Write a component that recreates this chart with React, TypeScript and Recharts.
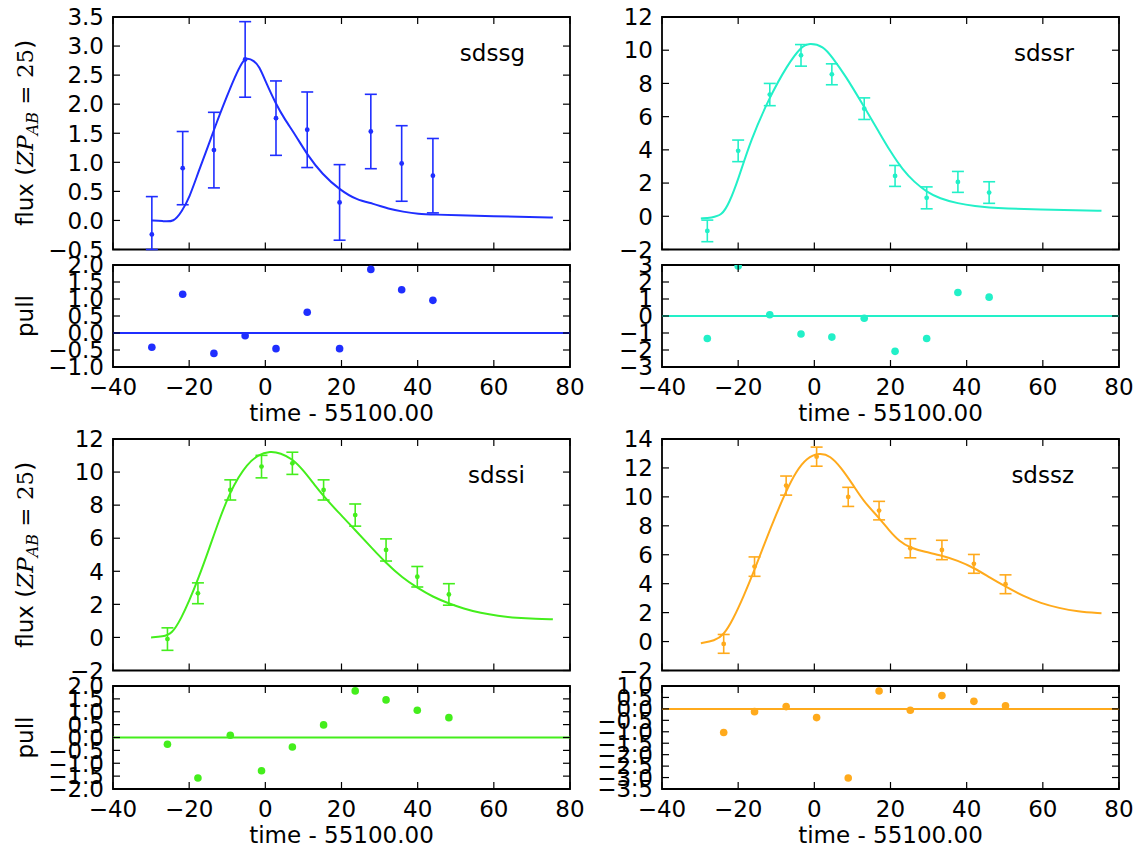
import React from "react";
import { ComposedChart, Line, Scatter, ErrorBar, XAxis, YAxis, ReferenceLine, ReferenceArea } from "recharts";

// epochs are days relative to MJD 55100
const gTime = [-29.8, -21.7, -13.5, -5.3, 2.8, 11.0, 19.5, 27.7, 35.8, 44.0];
const gFlux = [-0.24, 0.9, 1.21, 2.77, 1.76, 1.56, 0.31, 1.53, 0.98, 0.77];
const gErr = [0.65, 0.63, 0.65, 0.65, 0.64, 0.65, 0.65, 0.64, 0.65, 0.64];
const gPull = [-0.42, 1.14, -0.6, -0.08, -0.46, 0.61, -0.46, 1.87, 1.27, 0.96];
const gModelTime = [-30, -27, -24, -22, -20, -17.5, -15, -13, -10, -8, -6, -4.8, -3, -1.6, 0, 2.8, 5, 8, 11, 15, 19.5, 24, 28.4, 32.3, 36.2, 40, 45, 50, 60, 70, 75.5];
const gModelFlux = [0.0, -0.01, -0.03, 0.15, 0.38, 0.85, 1.28, 1.65, 2.15, 2.47, 2.74, 2.8, 2.75, 2.65, 2.4, 2.0, 1.75, 1.46, 1.13, 0.79, 0.53, 0.35, 0.29, 0.2, 0.15, 0.11, 0.1, 0.09, 0.07, 0.06, 0.05];

const rTime = [-28.1, -20.0, -11.7, -3.5, 4.6, 13.1, 21.2, 29.5, 37.7, 45.9];
const rFlux = [-0.88, 3.94, 7.33, 9.69, 8.55, 6.48, 2.43, 1.11, 2.07, 1.43];
const rErr = [0.65, 0.65, 0.67, 0.65, 0.63, 0.65, 0.63, 0.66, 0.63, 0.65];
const rPull = [-1.32, 2.94, 0.07, -1.06, -1.24, -0.13, -2.08, -1.32, 1.38, 1.11];
const rModelTime = [-29.8, -27, -24.3, -22.4, -20, -16.7, -11.7, -7.1, -3.5, -1.4, 2.4, 4.6, 8.1, 13.1, 16.7, 20, 23.3, 26.2, 29.5, 32.9, 37.7, 42.4, 45.9, 50, 59.5, 69, 75.4];
const rModelFlux = [-0.13, -0.08, 0.05, 0.77, 2.2, 4.6, 7.2, 9.1, 10.2, 10.45, 10.25, 9.6, 8.5, 6.58, 5.18, 3.88, 2.77, 2.07, 1.47, 1.07, 0.77, 0.61, 0.53, 0.47, 0.41, 0.37, 0.33];

const iTime = [-25.7, -17.7, -9.2, -1.0, 7.1, 15.3, 23.6, 31.7, 39.9, 48.2];
const iFlux = [-0.1, 2.67, 8.92, 10.33, 10.53, 8.92, 7.4, 5.29, 3.67, 2.6];
const iErr = [0.68, 0.63, 0.61, 0.68, 0.67, 0.61, 0.67, 0.67, 0.62, 0.65];
const iPull = [-0.26, -1.57, 0.09, -1.29, -0.37, 0.49, 1.81, 1.46, 1.06, 0.77];
const iModelTime = [-30, -27, -24.5, -22, -20, -17.7, -15, -12, -9.2, -7, -5, -2, 1.3, 4, 7.1, 10, 13, 15.3, 19, 23.6, 28, 31.7, 36, 39.9, 44, 48.2, 52, 56.6, 61, 66, 71, 75.5];
const iModelFlux = [0, 0.05, 0.2, 1.2, 2.2, 3.5, 5.2, 7.2, 8.8, 9.7, 10.4, 11.05, 11.27, 11.15, 10.8, 10.1, 9.2, 8.55, 7.6, 6.5, 5.4, 4.5, 3.6, 3.0, 2.45, 2.05, 1.75, 1.47, 1.3, 1.18, 1.12, 1.1];

const zTime = [-23.8, -15.7, -7.4, 0.6, 8.9, 17.0, 25.2, 33.5, 41.9, 50.2];
const zFlux = [-0.16, 5.18, 10.78, 12.78, 10.0, 9.05, 6.45, 6.33, 5.37, 3.96];
const zErr = [0.65, 0.67, 0.66, 0.66, 0.66, 0.64, 0.66, 0.67, 0.65, 0.65];
const zPull = [-1.03, -0.12, 0.1, -0.38, -3.02, 0.78, -0.06, 0.58, 0.33, 0.14];
const zModelTime = [-29.8, -26.2, -23.8, -21.4, -18.6, -15.7, -12.9, -10, -7.4, -4.8, -2, 1.3, 4.2, 7.1, 10, 12.9, 17, 19.5, 22.4, 25.2, 29, 33.5, 37.6, 41.9, 46.2, 50.2, 54.8, 59.5, 64.3, 69, 75.4];
const zModelFlux = [-0.11, 0.05, 0.45, 1.5, 3.1, 4.95, 6.9, 8.8, 10.4, 11.75, 12.7, 13.05, 12.85, 12.0, 10.9, 9.7, 8.55, 7.72, 6.9, 6.48, 6.2, 5.95, 5.6, 5.1, 4.4, 3.8, 3.15, 2.65, 2.31, 2.08, 1.95];

const timeTicks = [-40, -20, 0, 20, 40, 60, 80];
const gFluxTicks = [-0.5, 0, 0.5, 1, 1.5, 2, 2.5, 3, 3.5];
const rFluxTicks = [-2, 0, 2, 4, 6, 8, 10, 12];
const iFluxTicks = [-2, 0, 2, 4, 6, 8, 10, 12];
const zFluxTicks = [-2, 0, 2, 4, 6, 8, 10, 12, 14];
const gPullTicks = [-1, -0.5, 0, 0.5, 1, 1.5, 2];
const rPullTicks = [-3, -2, -1, 0, 1, 2, 3];
const iPullTicks = [-2, -1.5, -1, -0.5, 0, 0.5, 1, 1.5, 2];
const zPullTicks = [-3.5, -3, -2.5, -2, -1.5, -1, -0.5, 0, 0.5, 1];

const FONT = "'DejaVu Sans', sans-serif";
const SERIF = "'DejaVu Serif', serif";
const FS = 23;
const TICK = 7;
const PLOT_W = 457;
const COL_X = [113, 662];
const ROWS = [
  { mainTop: 16.5, mainH: 232.5, pullTop: 265, pullH: 102 },
  { mainTop: 439, mainH: 231.5, pullTop: 686, pullH: 103 },
];

const zip = (xs: number[], ys: number[]) => xs.map((x, k) => ({ x, y: ys[k] }));

// error bars are cut at the axes limits, like the clipped reference
const withErr = (xs: number[], ys: number[], es: number[], ticks: number[]) => {
  const lo = ticks[0];
  const hi = ticks[ticks.length - 1];
  return xs.map((x, k) => ({
    x,
    y: ys[k],
    err: [Math.min(es[k], ys[k] - lo), Math.min(es[k], hi - ys[k])],
  }));
};

const bands = [
  { name: "sdssg", color: "#1f2eff", col: 0, row: 0, obs: withErr(gTime, gFlux, gErr, gFluxTicks), pull: zip(gTime, gPull), model: zip(gModelTime, gModelFlux), fluxTicks: gFluxTicks, fluxDigits: 1, pullTicks: gPullTicks, pullDigits: 1 },
  { name: "sdssr", color: "#22f0c8", col: 1, row: 0, obs: withErr(rTime, rFlux, rErr, rFluxTicks), pull: zip(rTime, rPull), model: zip(rModelTime, rModelFlux), fluxTicks: rFluxTicks, fluxDigits: 0, pullTicks: rPullTicks, pullDigits: 0 },
  { name: "sdssi", color: "#44ee1c", col: 0, row: 1, obs: withErr(iTime, iFlux, iErr, iFluxTicks), pull: zip(iTime, iPull), model: zip(iModelTime, iModelFlux), fluxTicks: iFluxTicks, fluxDigits: 0, pullTicks: iPullTicks, pullDigits: 1 },
  { name: "sdssz", color: "#ffaa1c", col: 1, row: 1, obs: withErr(zTime, zFlux, zErr, zFluxTicks), pull: zip(zTime, zPull), model: zip(zModelTime, zModelFlux), fluxTicks: zFluxTicks, fluxDigits: 0, pullTicks: zPullTicks, pullDigits: 1 },
];

const fmt = (v: number, d: number) => v.toFixed(d).replace("-", "\u2212");

function XTick(props: any) {
  const { x, y, payload, plotH, showLabel } = props;
  return (
    <g>
      <line x1={x} x2={x} y1={y} y2={y - TICK} stroke="#000" strokeWidth={1.2} />
      <line x1={x} x2={x} y1={y - plotH} y2={y - plotH + TICK} stroke="#000" strokeWidth={1.2} />
      {showLabel && (
        <text x={x} y={y + 28} textAnchor="middle" fontSize={FS} fontFamily={FONT} fill="#000">
          {fmt(payload.value, 0)}
        </text>
      )}
    </g>
  );
}

function YTick(props: any) {
  const { x, y, payload, digits } = props;
  return (
    <g>
      <line x1={x} x2={x + TICK} y1={y} y2={y} stroke="#000" strokeWidth={1.2} />
      <line x1={x + PLOT_W} x2={x + PLOT_W - TICK} y1={y} y2={y} stroke="#000" strokeWidth={1.2} />
      <text x={x - 9} y={y} dy="0.36em" textAnchor="end" fontSize={FS} fontFamily={FONT} fill="#000">
        {fmt(payload.value, digits)}
      </text>
    </g>
  );
}

function Panel({ band }: { band: any }) {
  const r = ROWS[band.row];
  const left = COL_X[band.col] - 100;
  const fMin = band.fluxTicks[0];
  const fMax = band.fluxTicks[band.fluxTicks.length - 1];
  const pMin = band.pullTicks[0];
  const pMax = band.pullTicks[band.pullTicks.length - 1];
  const margin = { top: 20, right: 20, bottom: 0, left: 40 };
  return (
    <>
      <div style={{ position: "absolute", left, top: r.mainTop - 20 }}>
        <ComposedChart width={100 + PLOT_W + 20} height={r.mainH + 40} margin={margin}>
          <XAxis type="number" dataKey="x" domain={[-40, 80]} ticks={timeTicks} interval={0} allowDataOverflow
            axisLine={false} tickLine={false} tickSize={0} tickMargin={0} height={20}
            tick={(p: any) => <XTick {...p} plotH={r.mainH} showLabel={false} />} />
          <YAxis type="number" dataKey="y" domain={[fMin, fMax]} ticks={band.fluxTicks} interval={0} allowDataOverflow
            axisLine={false} tickLine={false} tickSize={0} tickMargin={0} width={60}
            tick={(p: any) => <YTick {...p} digits={band.fluxDigits} />} />
          <Line data={band.model} dataKey="y" type="basis" stroke={band.color} strokeWidth={2} dot={false} isAnimationActive={false} />
          <Scatter data={band.obs} dataKey="y" isAnimationActive={false}
            shape={(p: any) => <circle cx={p.cx} cy={p.cy} r={2.4} fill={band.color} />}>
            <ErrorBar dataKey="err" direction="y" width={6} stroke={band.color} strokeWidth={1.6} />
          </Scatter>
          <ReferenceArea x1={-40} x2={80} y1={fMin} y2={fMax} fill="none" fillOpacity={0} stroke="#000" strokeWidth={1.8} />
        </ComposedChart>
      </div>
      <div style={{ position: "absolute", left, top: r.pullTop - 20 }}>
        <ComposedChart width={100 + PLOT_W + 20} height={r.pullH + 80} margin={margin}>
          <XAxis type="number" dataKey="x" domain={[-40, 80]} ticks={timeTicks} interval={0} allowDataOverflow
            axisLine={false} tickLine={false} tickSize={0} tickMargin={0} height={60}
            tick={(p: any) => <XTick {...p} plotH={r.pullH} showLabel />} />
          <YAxis type="number" dataKey="y" domain={[pMin, pMax]} ticks={band.pullTicks} interval={0} allowDataOverflow
            axisLine={false} tickLine={false} tickSize={0} tickMargin={0} width={60}
            tick={(p: any) => <YTick {...p} digits={band.pullDigits} />} />
          <ReferenceLine y={0} stroke={band.color} strokeWidth={2} />
          <Scatter data={band.pull} dataKey="y" isAnimationActive={false}
            shape={(p: any) => <circle cx={p.cx} cy={p.cy} r={3.8} fill={band.color} />} />
          <ReferenceArea x1={-40} x2={80} y1={pMin} y2={pMax} fill="none" fillOpacity={0} stroke="#000" strokeWidth={1.8} />
        </ComposedChart>
      </div>
    </>
  );
}

export default function App() {
  return (
    <div style={{ position: "absolute", left: 0, top: 0, width: 1138, height: 849, background: "#fff", fontFamily: FONT }}>
      {bands.map((b) => (
        <Panel key={b.name} band={b} />
      ))}
      <svg width={1138} height={849} style={{ position: "absolute", left: 0, top: 0, pointerEvents: "none" }}>
        {bands.map((b) => {
          const r = ROWS[b.row];
          const x0 = COL_X[b.col];
          return (
            <g key={b.name} fontFamily={FONT} fontSize={FS} fill="#000">
              <text x={x0 + PLOT_W - 45} y={r.mainTop + 44} textAnchor="end">{b.name}</text>
              <text x={x0 + PLOT_W / 2} y={r.pullTop + r.pullH + 54} textAnchor="middle">time - 55100.00</text>
            </g>
          );
        })}
        {ROWS.map((r, k) => (
          <g key={k} fontFamily={FONT} fontSize={FS} fill="#000">
            <text transform={`translate(33, ${r.mainTop + r.mainH / 2}) rotate(-90)`} textAnchor="middle">
              flux (<tspan fontFamily={SERIF} fontStyle="italic">ZP</tspan><tspan fontFamily={SERIF} fontStyle="italic" fontSize={16} dy={5}>AB</tspan><tspan fontFamily={SERIF} dy={-5}>{" = 25"}</tspan>)
            </text>
            <text transform={`translate(33, ${r.pullTop + r.pullH / 2}) rotate(-90)`} textAnchor="middle">pull</text>
          </g>
        ))}
      </svg>
    </div>
  );
}
